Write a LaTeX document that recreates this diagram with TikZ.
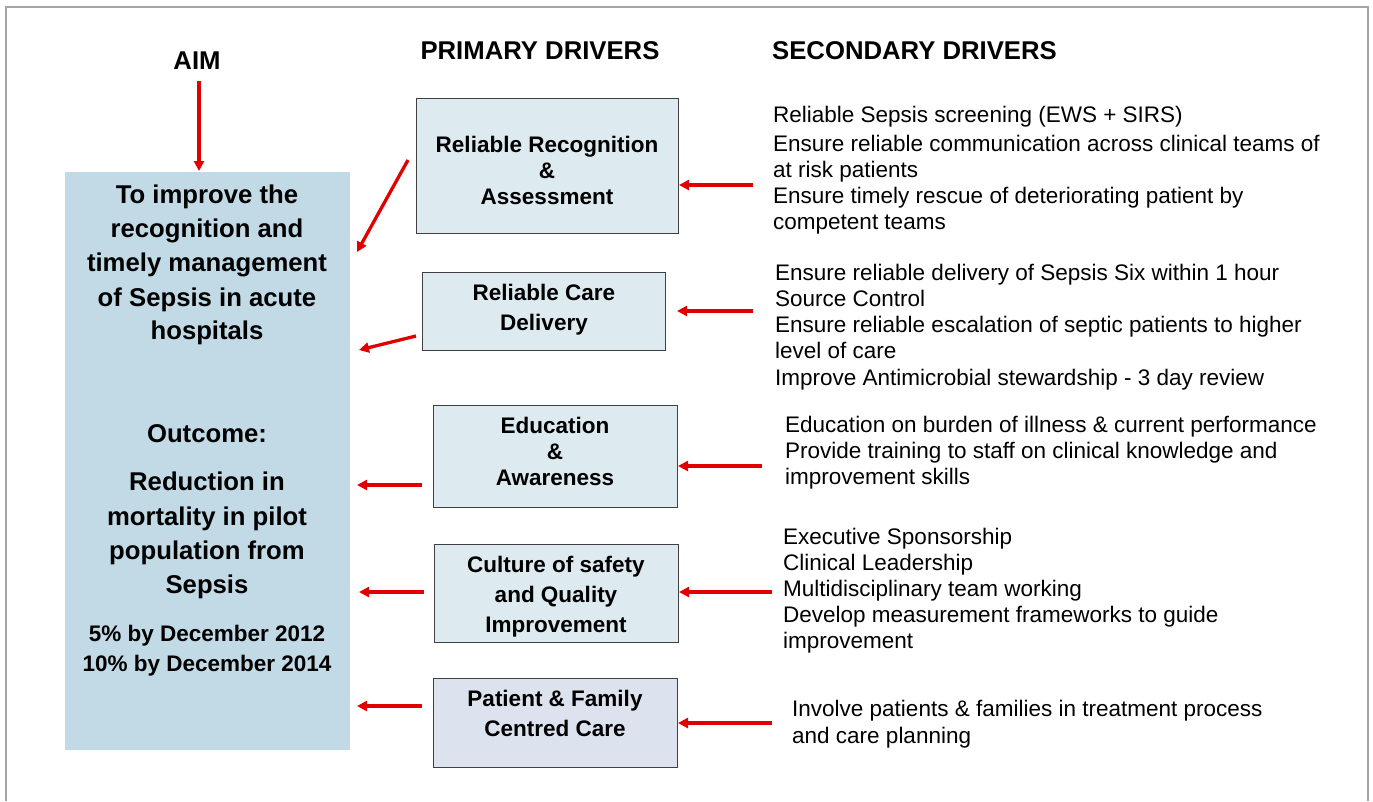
\documentclass[tikz,border=0pt]{standalone}
\usepackage{fontspec}
\setmainfont{Liberation Sans}
\usetikzlibrary{arrows.meta}
\definecolor{aimblue}{RGB}{193,218,229}
\definecolor{pblue}{RGB}{221,234,240}
\definecolor{plav}{RGB}{220,226,238}
\definecolor{arrred}{RGB}{224,0,0}
\definecolor{framegray}{RGB}{165,165,165}
\definecolor{boxedge}{RGB}{64,64,64}
\tikzset{
  pbox/.style={draw=boxedge, line width=1.3pt, fill=pblue, rectangle, anchor=north west, inner sep=0pt},
  hdr/.style={font=\bfseries\fontsize{25.7}{30}\selectfont, anchor=base, inner sep=0pt},
  btxt/.style={font=\bfseries\fontsize{22.5}{26}\selectfont, anchor=base, inner sep=0pt},
  aimtxt/.style={font=\bfseries\fontsize{25.7}{30}\selectfont, anchor=base, inner sep=0pt},
  stxt/.style={font=\fontsize{22.5}{26}\selectfont, anchor=base west, inner sep=0pt},
  arr/.style={draw=arrred, line width=3.3pt, -{Triangle[length=10pt,width=10pt]}}
}
\begin{document}
\begin{tikzpicture}[x=1pt,y=-1pt]
\useasboundingbox (0,0) rectangle (1373,801);
% frame
\draw[framegray, line width=1.5pt] (6,801) -- (6,7) -- (1368,7) -- (1368,801);

% headers
\node[hdr] (haim) at (197,69) {AIM};
\node[hdr] (hprim) at (540,59) {PRIMARY DRIVERS};
\node[hdr, anchor=base west] (hsec) at (772,59) {SECONDARY DRIVERS};

% aim box
\node[fill=aimblue, rectangle, anchor=north west, inner sep=0pt, minimum width=285, minimum height=578] (aim) at (65,172) {};
\node[aimtxt] (t1) at (207,203) {To improve the};
\node[aimtxt] (t2) at (207,237) {recognition and};
\node[aimtxt] (t3) at (207,271) {timely management};
\node[aimtxt] (t4) at (207,306) {of Sepsis in acute};
\node[aimtxt] (t5) at (207,339) {hospitals};
\node[aimtxt] (t6) at (207,442) {Outcome:};
\node[aimtxt] (t7) at (207,490) {Reduction in};
\node[aimtxt] (t8) at (207,525) {mortality in pilot};
\node[aimtxt] (t9) at (207,559) {population from};
\node[aimtxt] (t10) at (207,593) {Sepsis};
\node[btxt] (t11) at (207,641) {5\% by December 2012};
\node[btxt] (t12) at (207,671) {10\% by December 2014};

% primary boxes
\node[pbox, minimum width=262, minimum height=135] (p1) at (416,98) {};
\node[btxt] (p1a) at (547,152) {Reliable Recognition};
\node[btxt] (p1b) at (547,178) {\&};
\node[btxt] (p1c) at (547,204) {Assessment};

\node[pbox, minimum width=243, minimum height=78] (p2) at (422,272) {};
\node[btxt] (p2a) at (544,300) {Reliable Care};
\node[btxt] (p2b) at (544,330) {Delivery};

\node[pbox, minimum width=244, minimum height=102] (p3) at (433,405) {};
\node[btxt] (p3a) at (555,433) {Education};
\node[btxt] (p3b) at (555,459) {\&};
\node[btxt] (p3c) at (555,485) {Awareness};

\node[pbox, minimum width=244, minimum height=98] (p4) at (434,544) {};
\node[btxt] (p4a) at (556,572) {Culture of safety};
\node[btxt] (p4b) at (556,602) {and Quality};
\node[btxt] (p4c) at (556,632) {Improvement};

\node[pbox, fill=plav, minimum width=244, minimum height=89] (p5) at (433,678) {};
\node[btxt] (p5a) at (555,706) {Patient \& Family};
\node[btxt] (p5b) at (555,736) {Centred Care};

% secondary drivers
\node[stxt] (s1a) at (773,122) {Reliable Sepsis screening (EWS + SIRS)};
\node[stxt] (s1b) at (773,151) {Ensure reliable communication across clinical teams of};
\node[stxt] (s1c) at (773,177) {at risk patients};
\node[stxt] (s1d) at (773,203) {Ensure timely rescue of deteriorating patient by};
\node[stxt] (s1e) at (773,229) {competent teams};

\node[stxt] (s2a) at (775,280) {Ensure reliable delivery of Sepsis Six within 1 hour};
\node[stxt] (s2b) at (775,306) {Source Control};
\node[stxt] (s2c) at (775,332) {Ensure reliable escalation of septic patients to higher};
\node[stxt] (s2d) at (775,358) {level of care};
\node[stxt] (s2e) at (775,385) {Improve Antimicrobial stewardship - 3 day review};

\node[stxt] (s3a) at (785,432) {Education on burden of illness \& current performance};
\node[stxt] (s3b) at (785,458) {Provide training to staff on clinical knowledge and};
\node[stxt] (s3c) at (785,484) {improvement skills};

\node[stxt] (s4a) at (783,544) {Executive Sponsorship};
\node[stxt] (s4b) at (783,570) {Clinical Leadership};
\node[stxt] (s4c) at (783,596) {Multidisciplinary team working};
\node[stxt] (s4d) at (783,622) {Develop measurement frameworks to guide};
\node[stxt] (s4e) at (783,648) {improvement};

\node[stxt] (s5a) at (792,716) {Involve patients \& families in treatment process};
\node[stxt] (s5b) at (792,743) {and care planning};

% arrow end points
\coordinate (aimS) at (199,81);
\coordinate (aimE) at (199,171);
\coordinate (l1s) at (408,160); \coordinate (l1e) at (357,252);
\coordinate (l2s) at (416,336); \coordinate (l2e) at (359,350);
\coordinate (l3s) at (422,485); \coordinate (l3e) at (357,485);
\coordinate (l4s) at (424,592); \coordinate (l4e) at (359,592);
\coordinate (l5s) at (422,706); \coordinate (l5e) at (357,706);
\coordinate (r1s) at (753,185); \coordinate (r1e) at (679,185);
\coordinate (r2s) at (753,311); \coordinate (r2e) at (677,311);
\coordinate (r3s) at (762,466); \coordinate (r3e) at (678,466);
\coordinate (r4s) at (772,592); \coordinate (r4e) at (679,592);
\coordinate (r5s) at (772,723); \coordinate (r5e) at (678,723);

\draw[arr] (aimS) -- (aimE);
\draw[arr] (l1s) -- (l1e);
\draw[arr] (l2s) -- (l2e);
\draw[arr] (l3s) -- (l3e);
\draw[arr] (l4s) -- (l4e);
\draw[arr] (l5s) -- (l5e);
\draw[arr] (r1s) -- (r1e);
\draw[arr] (r2s) -- (r2e);
\draw[arr] (r3s) -- (r3e);
\draw[arr] (r4s) -- (r4e);
\draw[arr] (r5s) -- (r5e);
\end{tikzpicture}
\end{document}
